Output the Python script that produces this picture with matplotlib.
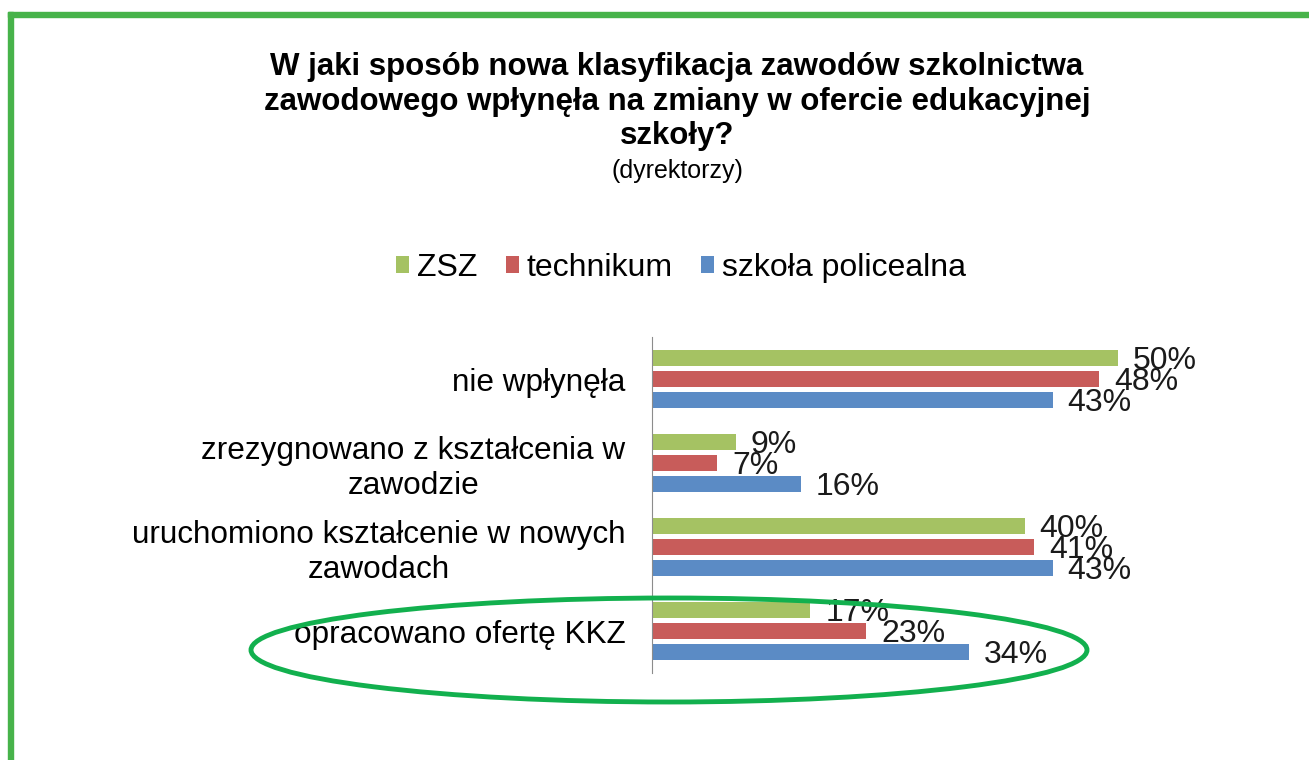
import matplotlib
matplotlib.use("Agg")
from matplotlib import pyplot as plt
from matplotlib.patches import Ellipse, Rectangle
import numpy as np

plt.rcParams['font.family'] = ['Liberation Sans', 'DejaVu Sans']

categories = ["nie wpłynęła",
              "zrezygnowano z kształcenia w\nzawodzie",
              "uruchomiono kształcenie w nowych\nzawodach",
              "opracowano ofertę KKZ"]
series = ["ZSZ", "technikum", "szkoła policealna"]
zsz = [50, 9, 40, 17]
technikum = [48, 7, 41, 23]
policealna = [43, 16, 43, 34]
colors = ["#A5C263", "#C85C5A", "#5B8BC5"]

W, H = 1309, 760
fig = plt.figure(figsize=(W / 100, H / 100), dpi=100)
fig.patch.set_facecolor("white")

# axes placed by pixel box: x from 652, y from 337 to 673
ax = fig.add_axes([652 / W, 1 - 673 / H, 559 / W, 336 / H])
ax.set_xlim(0, 60)
ax.set_ylim(3.5, -0.5)

y = np.arange(len(categories))
offsets = [-0.25, 0, 0.25]
for vals, off, col, name in zip([zsz, technikum, policealna], offsets, colors, series):
    bars = ax.barh(y + off, vals, height=0.2, color=col, label=name)
    for b, v in zip(bars, vals):
        ax.annotate(f"{v}%", (b.get_width(), b.get_y() + b.get_height() / 2),
                    xytext=(15, -3), textcoords="offset pixels",
                    ha="left", va="center", fontsize=23, color="#1a1a1a")

for s in ["top", "right", "bottom"]:
    ax.spines[s].set_visible(False)
ax.spines["left"].set_color("#8c8c8c")
ax.set_xticks([])
ax.set_yticks(y)
ax.set_yticklabels(categories, fontsize=22.7)
ax.tick_params(axis="y", length=0, pad=19)
for lab in ax.get_yticklabels():
    lab.set_multialignment("center")
    lab.set_linespacing(1.2)

fig.text(677 / W, 1 - 52 / H,
         "W jaki sposób nowa klasyfikacja zawodów szkolnictwa\n"
         "zawodowego wpłynęła na zmiany w ofercie edukacyjnej\nszkoły?",
         ha="center", va="top", fontsize=22.5, fontweight="bold", linespacing=1.2)
fig.text(677 / W, 1 - 171 / H, "(dyrektorzy)", ha="center", va="center", fontsize=18)

ax.legend(loc="center", bbox_to_anchor=(681 / W, 1 - 268 / H), bbox_transform=fig.transFigure,
          ncol=3, frameon=False, fontsize=23, handlelength=0.4, handleheight=0.45,
          handletextpad=0.25, columnspacing=0.9)

# green frame
fig.patches.append(Rectangle((8 / W, 1 - 17 / H), 1 - 8 / W, 5 / H, transform=fig.transFigure,
                             color="#47B34A", zorder=5))
fig.patches.append(Rectangle((8 / W, 0), 5 / W, 1 - 12 / H, transform=fig.transFigure,
                             color="#47B34A", zorder=5))

# highlight ellipse
fig.patches.append(Ellipse((669 / W, 1 - 650 / H), 836 / W, 104 / H, transform=fig.transFigure,
                           fill=False, edgecolor="#12B04E", linewidth=3.5, zorder=6))

plt.savefig("out.png", dpi=100)
